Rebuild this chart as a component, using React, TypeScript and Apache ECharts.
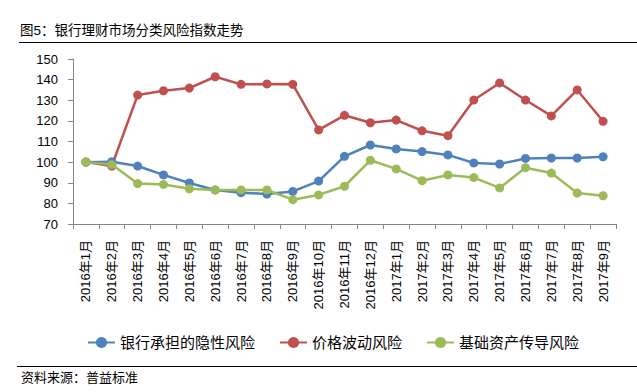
import React, { useEffect, useRef } from "react";
import * as echarts from "echarts";

const categories = [
  "2016年1月", "2016年2月", "2016年3月", "2016年4月", "2016年5月", "2016年6月",
  "2016年7月", "2016年8月", "2016年9月", "2016年10月", "2016年11月", "2016年12月",
  "2017年1月", "2017年2月", "2017年3月", "2017年4月", "2017年5月", "2017年6月",
  "2017年7月", "2017年8月", "2017年9月",
];

const implicitRisk = [
  100, 100.2, 98.1, 93.8, 89.9, 86.5, 85.2, 84.5, 85.8, 90.8, 102.8,
  108.3, 106.4, 105.1, 103.5, 99.6, 99.1, 101.8, 102, 102, 102.6,
];

const priceRisk = [
  100, 98.1, 132.5, 134.6, 135.9, 141.4, 137.7, 137.9, 137.7, 115.6, 122.7,
  119.1, 120.4, 115.2, 112.8, 130.1, 138.4, 130.1, 122.4, 135, 119.8,
];

const assetRisk = [
  100, 98.8, 89.6, 89.2, 87.1, 86.5, 86.5, 86.5, 81.8, 84.1, 88.3,
  100.9, 96.7, 91, 93.8, 92.5, 87.5, 97.3, 94.7, 85, 83.7,
];

const seriesNames = ["银行承担的隐性风险", "价格波动风险", "基础资产传导风险"];
const seriesColors = ["#4F81BD", "#C0504D", "#9BBB59"];
const seriesData = [implicitRisk, priceRisk, assetRisk];

const titleText = "图5：银行理财市场分类风险指数走势";
const sourceText = "资料来源：普益标准";

const FONT = "'Liberation Sans', 'Noto Sans CJK SC', sans-serif";

export default function App() {
  const ref = useRef<HTMLDivElement>(null);

  useEffect(() => {
    if (!ref.current) return;
    const chart = echarts.init(ref.current, null, { renderer: "svg" });
    chart.setOption({
      animation: false,
      backgroundColor: "#ffffff",
      textStyle: { fontFamily: FONT },
      grid: { left: 73, right: 21, top: 59, bottom: 168, containLabel: false },
      legend: {
        left: 87,
        top: 335,
        padding: 0,
        itemWidth: 27,
        itemHeight: 14,
        itemGap: 24,
        textStyle: { fontSize: 15, color: "#000", fontFamily: FONT },
        data: seriesNames,
      },
      xAxis: {
        type: "category",
        data: categories,
        boundaryGap: true,
        axisLine: { show: true, lineStyle: { color: "#868686", width: 1 } },
        axisTick: { show: true, interval: 0, length: 5, lineStyle: { color: "#868686" } },
        axisLabel: {
          interval: 0,
          rotate: 90,
          margin: 16,
          fontSize: 13,
          color: "#000",
          fontFamily: FONT,
        },
        splitLine: { show: false },
      },
      yAxis: {
        type: "value",
        min: 70,
        max: 150,
        interval: 10,
        axisLine: { show: true, lineStyle: { color: "#868686", width: 1 } },
        axisTick: { show: true, length: 5, lineStyle: { color: "#868686" } },
        axisLabel: { fontSize: 13, color: "#000", margin: 15, fontFamily: FONT },
        splitLine: { show: false },
      },
      series: seriesNames.map((name, i) => ({
        name,
        type: "line",
        data: seriesData[i],
        symbol: "circle",
        symbolSize: 9,
        itemStyle: { color: seriesColors[i] },
        lineStyle: { color: seriesColors[i], width: 2.5 },
        z: 3 + (i === 2 ? 1 : i === 0 ? 0 : -1),
      })),
      graphic: [
        {
          type: "text",
          left: 20,
          top: 24,
          style: { text: titleText, fontSize: 13.5, fontWeight: "normal", fill: "#000", fontFamily: FONT },
        },
        {
          type: "line",
          shape: { x1: 19, y1: 42.5, x2: 637, y2: 42.5 },
          style: { stroke: "#000", lineWidth: 1 },
        },
        {
          type: "line",
          shape: { x1: 17, y1: 366.5, x2: 637, y2: 366.5 },
          style: { stroke: "#000", lineWidth: 1 },
        },
        {
          type: "text",
          left: 21,
          top: 371,
          style: { text: sourceText, fontSize: 13, fill: "#000", fontFamily: FONT },
        },
      ],
    });
    return () => chart.dispose();
  }, []);

  return <div ref={ref} style={{ width: 637, height: 392, position: "absolute", left: 0, top: 0 }} />;
}
